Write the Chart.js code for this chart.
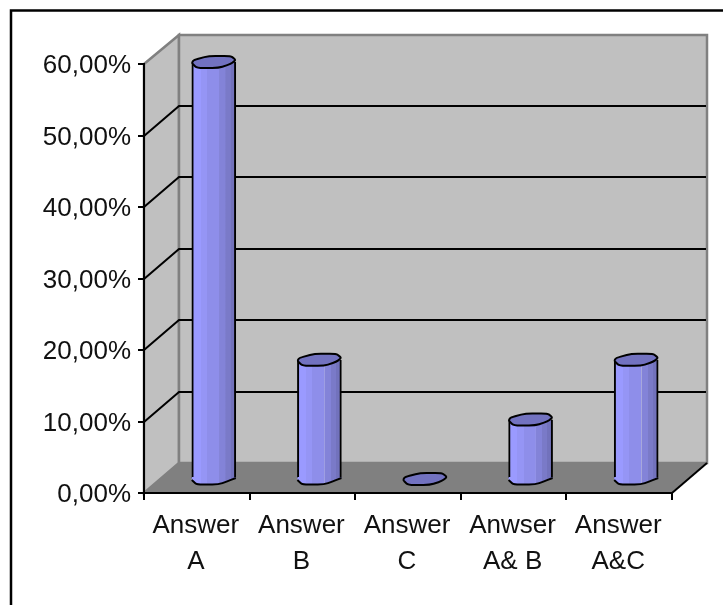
<!DOCTYPE html>
<html>
<head>
<meta charset="utf-8">
<title>Answers</title>
<script src="https://cdn.jsdelivr.net/npm/chart.js@4/dist/chart.umd.min.js"></script>
<style>
  html, body { margin: 0; padding: 0; background: #fff; }
  canvas { display: block; }
</style>
</head>
<body>
<canvas id="grafico" width="723" height="605"></canvas>
<script>
const categorias = [["Answer", "A"], ["Answer", "B"], ["Answer", "C"], ["Anwser", "A& B"], ["Answer", "A&C"]];
const valores = [58.33, 16.67, 0, 8.33, 16.67];
const marcasY = [0, 10, 20, 30, 40, 50, 60];

// depth of the fake 3D box, and how far the columns sit inside it
const FUNDO_X = 35, FUNDO_Y = 30;
const BARRA_X = 17, BARRA_Y = 14;

// outline of a column's end, relative to its centre
const tampa = [[-22, 1], [-20, -2], [-5, -6], [17, -6], [22, -2], [17, 2], [5, 6], [-17, 6]];
const pe = [[-22, -1], [-22, 2], [-17, 6.5], [5, 6.5], [17, 2], [22, 0], [22, -1]];

const faixas = [
  [0, "#9a9aff"], [0.2, "#9a9aff"], [0.2, "#9595f5"], [0.34, "#9595f5"], [0.34, "#8e8eea"],
  [0.61, "#8e8eea"], [0.62, "#a9a9dc"], [0.63, "#8383d8"], [0.76, "#8383d8"], [0.77, "#7a7ac8"],
  [0.88, "#7a7ac8"], [0.88, "#7272bc"], [1, "#7272bc"]
];

function corBarra(ctx, cx) {
  if (!Number.isFinite(cx)) return "#8e8eea"; // scale not laid out yet
  const g = ctx.createLinearGradient(cx - 22, 0, cx + 22, 0);
  faixas.forEach(f => g.addColorStop(f[0], f[1]));
  return g;
}

// traces the points with softened corners
function contorno(ctx, pontos, cx, cy, fechado) {
  const n = pontos.length;
  const perto = (p, q) => [cx + p[0] + (q[0] - p[0]) * 0.3, cy + p[1] + (q[1] - p[1]) * 0.3];
  ctx.beginPath();
  if (fechado) {
    const ini = perto(pontos[0], pontos[n - 1]);
    ctx.moveTo(ini[0], ini[1]);
  } else {
    ctx.moveTo(cx + pontos[0][0], cy + pontos[0][1]);
  }
  const ultimo = fechado ? n : n - 1;
  for (let i = fechado ? 0 : 1; i < ultimo; i++) {
    const p = pontos[i];
    const a = perto(p, pontos[(i + n - 1) % n]);
    const b = perto(p, pontos[(i + 1) % n]);
    ctx.lineTo(a[0], a[1]);
    ctx.quadraticCurveTo(cx + p[0], cy + p[1], b[0], b[1]);
  }
  if (fechado) ctx.closePath();
  else ctx.lineTo(cx + pontos[n - 1][0], cy + pontos[n - 1][1]);
}

// frame, walls, floor and the gridlines that run around them
const caixa3d = {
  id: "caixa3d",
  beforeDraw(chart) {
    const { ctx, chartArea: a, scales } = chart;
    ctx.save();

    ctx.strokeStyle = "#000";
    ctx.lineWidth = 2.5;
    ctx.beginPath();
    ctx.moveTo(11, 605);
    ctx.lineTo(11, 10.5);
    ctx.lineTo(723, 10.5);
    ctx.stroke();

    const fx = a.left + FUNDO_X, topo = a.top - FUNDO_Y + 1, chao = a.bottom - FUNDO_Y;

    // side wall
    ctx.fillStyle = "#c0c0c0";
    ctx.strokeStyle = "#808080";
    ctx.lineWidth = 2.5;
    ctx.beginPath();
    ctx.moveTo(a.left, a.top);
    ctx.lineTo(fx, topo);
    ctx.lineTo(fx, chao);
    ctx.lineTo(a.left, a.bottom);
    ctx.closePath();
    ctx.fill();
    ctx.stroke();

    // back wall
    ctx.beginPath();
    ctx.rect(fx, topo, a.width, chao - topo);
    ctx.fill();
    ctx.stroke();

    // floor
    ctx.fillStyle = "#808080";
    ctx.beginPath();
    ctx.moveTo(a.left, a.bottom);
    ctx.lineTo(fx, chao);
    ctx.lineTo(fx + a.width, chao);
    ctx.lineTo(a.right, a.bottom);
    ctx.closePath();
    ctx.fill();

    ctx.strokeStyle = "#000";
    ctx.lineWidth = 2;
    ctx.beginPath();
    ctx.moveTo(a.right, a.bottom);
    ctx.lineTo(fx + a.width, chao);
    ctx.stroke();

    marcasY.slice(1, -1).forEach(v => {
      const y = Math.round(scales.y.getPixelForValue(v));
      ctx.beginPath();
      ctx.moveTo(a.left, y);
      ctx.lineTo(fx, y - FUNDO_Y);
      ctx.lineTo(fx + a.width - 1, y - FUNDO_Y);
      ctx.stroke();
    });
    ctx.restore();
  },
  // columns stand in the middle of the box, so shift them back
  beforeDatasetDraw(chart) {
    chart.ctx.save();
    chart.ctx.translate(BARRA_X, -BARRA_Y);
  },
  afterDatasetDraw(chart, args) {
    const ctx = chart.ctx;
    ctx.lineJoin = "round";
    ctx.lineWidth = 2;
    ctx.strokeStyle = "#000";
    args.meta.data.forEach((el, i) => {
      if (valores[i] > 0) {
        ctx.fillStyle = corBarra(ctx, el.x);
        contorno(ctx, pe, el.x, el.base, false);
        ctx.fill();
        contorno(ctx, pe.slice(1, -1), el.x, el.base, false);
        ctx.stroke();
      }
      ctx.fillStyle = "#7272c0";
      contorno(ctx, tampa, el.x, el.y, true);
      ctx.fill();
      ctx.stroke();
    });
    ctx.restore();
  }
};

new Chart(document.getElementById("grafico"), {
  type: "bar",
  data: {
    labels: categorias,
    datasets: [{
      data: valores,
      barThickness: 44,
      borderWidth: { left: 2, right: 2, top: 0, bottom: 0 },
      borderSkipped: false,
      borderColor: "#000",
      backgroundColor: c => corBarra(c.chart.ctx, c.chart.scales.x.getPixelForValue(c.dataIndex)),
      clip: false
    }]
  },
  options: {
    responsive: false,
    animation: false,
    layout: { padding: { top: 64, right: 51, left: 0, bottom: 0 } },
    plugins: { legend: { display: false }, tooltip: { enabled: false } },
    scales: {
      x: {
        afterFit: s => { s.height = 112; },
        border: { color: "#000", width: 2 },
        grid: { offset: true, drawOnChartArea: false, color: "#000", lineWidth: 2, tickLength: 7 },
        ticks: {
          color: "#111",
          padding: 8,
          labelOffset: -1,
          maxRotation: 0,
          autoSkip: false,
          font: { family: "'Liberation Sans', Arial, sans-serif", size: 26, lineHeight: 1.39 }
        }
      },
      y: {
        min: 0,
        max: 60,
        afterFit: s => { s.width = 144; },
        afterBuildTicks: s => { s.ticks = marcasY.map(v => ({ value: v })); },
        border: { color: "#000", width: 2 },
        grid: { drawOnChartArea: false, color: "#000", lineWidth: 2, tickLength: 6 },
        ticks: {
          color: "#111",
          padding: 7,
          labelOffset: 2,
          font: { family: "'Liberation Sans', Arial, sans-serif", size: 26 },
          callback: v => v.toFixed(2).replace(".", ",") + "%"
        }
      }
    }
  },
  plugins: [caixa3d]
});
</script>
</body>
</html>
